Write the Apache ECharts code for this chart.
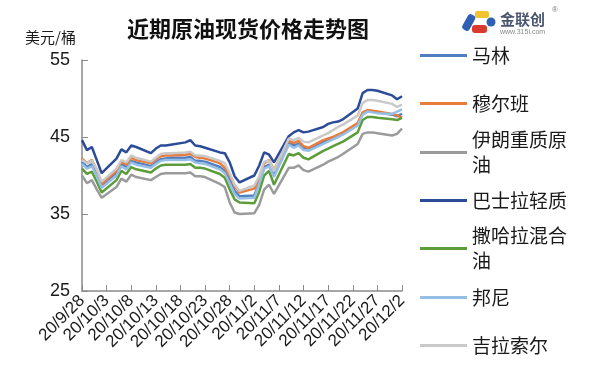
<!DOCTYPE html>
<html>
<head>
<meta charset="utf-8">
<script src="https://cdn.jsdelivr.net/npm/echarts@6/dist/echarts.min.js"></script>
<style>
html,body{margin:0;padding:0;background:#fff;}
#c{width:600px;height:379px;}
</style>
</head>
<body>
<div id="c"></div>
<script>
// ---- data ----
const tradeDates = [
 '2020-09-28','2020-09-29','2020-09-30','2020-10-01','2020-10-02',
 '2020-10-05','2020-10-06','2020-10-07','2020-10-08','2020-10-09',
 '2020-10-12','2020-10-13','2020-10-14','2020-10-15','2020-10-16',
 '2020-10-19','2020-10-20','2020-10-21','2020-10-22','2020-10-23',
 '2020-10-26','2020-10-27','2020-10-28','2020-10-29','2020-10-30',
 '2020-11-02','2020-11-03','2020-11-04','2020-11-05','2020-11-06',
 '2020-11-09','2020-11-10','2020-11-11','2020-11-12','2020-11-13',
 '2020-11-16','2020-11-17','2020-11-18','2020-11-19','2020-11-20',
 '2020-11-23','2020-11-24','2020-11-25','2020-11-26','2020-11-27',
 '2020-11-30','2020-12-01','2020-12-02'
];
const seriesNames = ['马林','穆尔班','伊朗重质原油','巴士拉轻质','撒哈拉混合油','邦尼','吉拉索尔'];
const legendLabels = ['马林','穆尔班','伊朗重质原\n油','巴士拉轻质','撒哈拉混合\n油','邦尼','吉拉索尔'];
const marine = [41.8,41.1,41.5,40.1,38.6, 40.3,41.5,41.1,41.9,41.7, 41.2,41.7,42.1,42.2,42.3, 42.3,42.4,41.9,41.9,41.8, 41.1,40.6,39.4,38.0,37.3, 37.4,39.0,41.1,41.4,40.0, 44.2,43.9,44.1,43.6,43.5, 44.3,44.6,44.9,45.2,45.5, 46.7,48.0,48.4,48.3,48.2, 47.9,47.7,48.0];
const murban = [42.2,41.6,42.0,40.7,38.9, 40.6,41.8,41.4,42.3,42.0, 41.6,42.1,42.5,42.6,42.6, 42.7,42.8,42.4,42.3,42.2, 41.6,41.0,40.0,38.6,37.8, 38.3,39.6,41.6,42.0,40.7, 44.6,44.2,44.5,43.8,43.6, 44.6,44.8,45.0,45.3,45.6, 46.8,48.2,48.5,48.4,48.3, 48.0,47.8,47.5];
const iranHeavy = [40.0,39.0,39.4,38.2,37.1, 38.5,39.6,39.2,40.1,39.8, 39.4,39.8,40.2,40.3,40.3, 40.3,40.4,39.9,39.9,39.8, 38.9,38.5,36.5,35.2,35.0, 35.1,36.2,38.2,38.8,37.6, 41.0,41.0,41.3,40.7,40.5, 41.4,41.8,42.1,42.4,42.8, 44.1,45.4,45.6,45.6,45.5, 45.2,45.4,46.1];
const basrahLight = [44.6,43.3,43.7,42.0,40.3, 42.2,43.4,43.0,43.9,43.7, 42.9,43.5,43.9,43.9,44.0, 44.3,44.6,43.9,43.8,43.6, 43.0,42.9,41.7,39.9,39.1, 40.0,41.3,43.0,42.7,41.7, 45.1,45.6,45.9,45.6,45.7, 46.3,46.7,46.9,47.0,47.3, 48.7,50.7,51.1,51.1,51.0, 50.4,49.9,50.3];
const saharan = [40.9,40.2,40.5,39.2,37.8, 39.4,40.6,40.2,41.1,40.8, 40.4,40.9,41.3,41.4,41.4, 41.4,41.5,41.0,41.0,40.9, 40.2,39.7,38.2,36.9,36.5, 36.4,37.9,40.0,40.6,38.8, 42.8,42.6,42.9,42.3,42.1, 43.2,43.5,43.8,44.1,44.4, 45.6,47.2,47.6,47.6,47.5, 47.3,47.2,47.5];
const bonny = [41.5,40.9,41.2,39.9,38.4, 40.0,41.2,40.8,41.7,41.4, 41.0,41.5,41.9,42.0,42.0, 42.0,42.1,41.7,41.6,41.5, 40.8,40.3,39.0,37.6,37.0, 37.1,38.9,40.9,41.2,39.8, 44.0,43.6,43.9,43.3,43.2, 44.1,44.4,44.7,45.0,45.3, 46.5,47.9,48.3,48.2,48.1, 48.0,48.3,48.6];
const girassol = [42.0,41.6,41.9,40.8,39.2, 40.9,42.0,41.7,42.6,42.3, 41.8,42.3,42.8,42.9,42.9, 43.0,43.1,42.6,42.6,42.5, 41.9,41.6,40.3,38.8,38.0, 38.7,39.9,41.8,41.9,40.6, 44.8,44.6,44.9,44.4,44.3, 45.2,45.5,45.9,46.3,46.6, 47.8,49.4,49.8,49.8,49.7, 49.3,48.9,49.2];
const yTicks = [25, 35, 45, 55];
const colors = ['#4f7fc0','#e77c3c','#9b9b9b','#2c4b99','#5d9c3b','#96bfe6','#c9c9c9'];
const allValues = [marine, murban, iranHeavy, basrahLight, saharan, bonny, girassol];

// ---- calendar-day category axis ----
const categories = [];
const dayIndex = {};
(function(){
  const s = new Date(2020, 8, 28), e = new Date(2020, 11, 2);
  for (let d = new Date(s); d <= e; d.setDate(d.getDate() + 1)) {
    const key = d.getFullYear() + '-' + String(d.getMonth()+1).padStart(2,'0') + '-' + String(d.getDate()).padStart(2,'0');
    dayIndex[key] = categories.length;
    categories.push('20/' + (d.getMonth()+1) + '/' + d.getDate());
  }
})();
function toAxis(vals){
  const arr = new Array(categories.length).fill(null);
  tradeDates.forEach((t,i)=>{ arr[dayIndex[t]] = vals[i]; });
  return arr;
}

const legendCenters = [55, 103, 152, 200, 248, 297, 345];
const FONT = '"Liberation Sans", "Noto Sans CJK SC", sans-serif';
const CJK = '"Noto Sans CJK SC", "Liberation Sans", sans-serif';

const chart = echarts.init(document.getElementById('c'), null, {renderer:'canvas'});
const option = {
  animation: false,
  backgroundColor: '#fff',
  title: {
    text: '近期原油现货价格走势图',
    left: 127, top: 18, padding: 0,
    textStyle: {fontFamily: CJK, fontSize: 22, fontWeight: 'bold', color: '#111'}
  },
  legend: seriesNames.map((n,i)=>{
    const wrap = legendLabels[i].indexOf('\n') >= 0;
    return {
      data: [n], left: 420, top: legendCenters[i] - (wrap ? 37 : 12), padding: 0,
      icon: 'rect', itemWidth: 47, itemHeight: 3, selectedMode: false,
      formatter: () => legendLabels[i],
      textStyle: {fontFamily: CJK, fontSize: 19, color: '#1a1a1a', lineHeight: 25,
                  padding: wrap ? [25,0,0,0] : 0}
    };
  }),
  grid: {left: 82, right: 198, top: 60, bottom: 88},
  xAxis: {
    type: 'category', data: categories, boundaryGap: false,
    axisLine: {lineStyle: {color: '#8a8a8a', width: 1.5}},
    axisTick: {show: true, inside: true, length: 6, interval: 4, lineStyle: {color: '#8a8a8a'}},
    axisLabel: {interval: 4, rotate: 45, margin: 7, fontFamily: FONT, fontSize: 17, color: '#1a1a1a'},
    splitLine: {show: false}
  },
  yAxis: {
    type: 'value', min: 25, max: 55, interval: 10,
    name: '美元/桶', nameLocation: 'end', nameGap: 15,
    nameTextStyle: {fontFamily: CJK, fontSize: 15, color: '#1a1a1a', align: 'right', padding: [0, 6, 0, 0]},
    axisLine: {show: true, lineStyle: {color: '#8a8a8a', width: 1.5}},
    axisTick: {show: true, inside: true, length: 6, lineStyle: {color: '#8a8a8a'}},
    axisLabel: {margin: 12, fontFamily: FONT, fontSize: 18, color: '#1a1a1a',
                formatter: v => yTicks.indexOf(v) >= 0 ? String(v) : ''},
    splitLine: {show: false}
  },
  series: seriesNames.map((n,i)=>({
    name: n, type: 'line', data: toAxis(allValues[i]), connectNulls: true,
    showSymbol: false, symbol: 'none', smooth: false,
    lineStyle: {color: colors[i], width: 2.5}, itemStyle: {color: colors[i]}
  })),
  graphic: [
    {type: 'rect', shape: {x: 465, y: 14, width: 8, height: 17, r: 3}, rotation: -0.5, originX: 469, originY: 22, style: {fill: '#2f5fb3'}},
    {type: 'rect', shape: {x: 475, y: 11, width: 14, height: 7, r: 2}, style: {fill: '#f2c230'}},
    {type: 'rect', shape: {x: 472, y: 25, width: 15, height: 8, r: 3}, style: {fill: '#d93a2f'}},
    {type: 'circle', shape: {cx: 491, cy: 22, r: 4.5}, style: {fill: '#2f5fb3'}},
    {type: 'text', left: 500, top: 12, style: {text: '金联创', font: 'bold 15px "Noto Sans CJK SC"', fill: '#4a5670'}},
    {type: 'text', left: 552, top: 6, style: {text: '®', font: '8px "Liberation Sans"', fill: '#777'}},
    {type: 'text', left: 500, top: 29, style: {text: 'www.315i.com', font: '7px "Liberation Sans"', fill: '#888'}}
  ]
};
chart.setOption(option);
</script>
</body>
</html>
